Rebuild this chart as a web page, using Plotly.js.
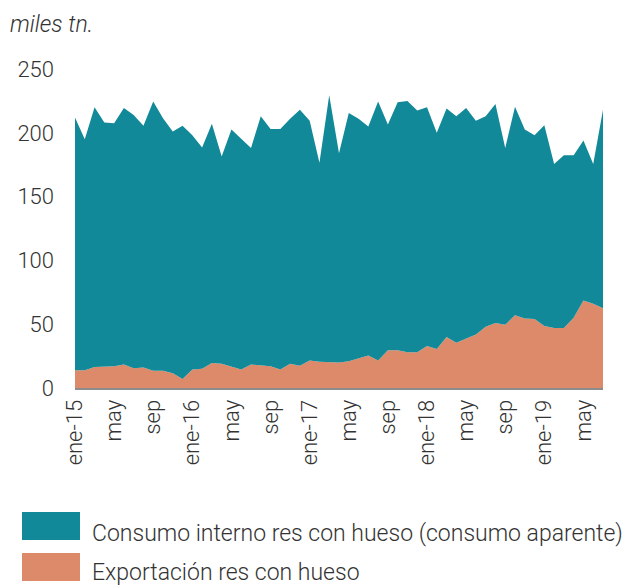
<!DOCTYPE html>
<html>
<head>
<meta charset="utf-8">
<script src="https://cdn.plot.ly/plotly-3.0.1.min.js"></script>
<style>html,body{margin:0;padding:0;background:#fff;}#chart{width:628px;height:587px;}</style>
</head>
<body>
<div id="chart"></div>
<script>
// Monthly, ene-15 .. jul-19
const months = ["ene-15","feb-15","mar-15","abr-15","may-15","jun-15","jul-15","ago-15","sep-15","oct-15","nov-15","dic-15",
  "ene-16","feb-16","mar-16","abr-16","may-16","jun-16","jul-16","ago-16","sep-16","oct-16","nov-16","dic-16",
  "ene-17","feb-17","mar-17","abr-17","may-17","jun-17","jul-17","ago-17","sep-17","oct-17","nov-17","dic-17",
  "ene-18","feb-18","mar-18","abr-18","may-18","jun-18","jul-18","ago-18","sep-18","oct-18","nov-18","dic-18",
  "ene-19","feb-19","mar-19","abr-19","may-19","jun-19","jul-19"];
const exportacion = [14,14,16.5,17,17,18.5,15.5,16,13.5,13.5,11.5,7,
  14.5,15,19.5,19,17,14.5,18.5,18,17,14.5,19,17.5,
  21.5,20.5,20,20,21,23.5,25.5,21.5,29.5,29.5,28,28,
  33,30.5,40,35.5,39,42,48,51,49.5,57,54.5,54,
  48.5,47,47,55,68.5,66,62.5];
const consumoInterno = [198,181,203.5,191,190.5,201,198.5,189.5,211,198,189.5,198.5,
  183.5,173.5,187.5,162.5,185.5,181,169.5,195,186,188.5,192,200.5,
  188,156,209.5,164,194.5,187.5,179.5,203,177,194.5,197,189.5,
  187,169.5,179,177.5,180.5,167.5,165,171.5,138.5,163.5,148,144,
  157.5,128.5,135.5,127.5,125.5,109.5,155.5];
const tickIdx = [0,4,8,12,16,20,24,28,32,36,40,44,48,52];
const tickLabels = ["ene-15","may","sep","ene-16","may","sep","ene-17","may","sep","ene-18","may","sep","ene-19","may"];
const seriesNames = ["Consumo interno res con hueso (consumo aparente)","Exportación res con hueso"];
const colors = ["#128998","#DC8A6A"];

const x = months.map((m,i)=>i);
const fam = "Roboto, 'Open Sans', sans-serif";
const txt = (size)=>({size:size, family:fam, color:"#333", weight:300});

const traces = [
  {x:x, y:exportacion, name:seriesNames[1], type:"scatter", mode:"lines", stackgroup:"one",
   line:{width:0, color:colors[1]}, fillcolor:colors[1], text:months, hoverinfo:"text+y"},
  {x:x, y:consumoInterno, name:seriesNames[0], type:"scatter", mode:"lines", stackgroup:"one",
   line:{width:0, color:colors[0]}, fillcolor:colors[0], text:months, hoverinfo:"text+y"}
];

const layout = {
  width:628, height:587,
  margin:{l:75, r:25, t:69, b:199},
  paper_bgcolor:"#fff", plot_bgcolor:"#fff",
  showlegend:false,
  font:txt(20),
  xaxis:{range:[0,54], tickmode:"array", tickvals:tickIdx, ticktext:tickLabels,
    tickangle:-90, tickfont:txt(22),
    showgrid:false, zeroline:false, showline:true, linecolor:"#8c8c8c", linewidth:2,
    ticks:"", ticklabelstandoff:1},
  yaxis:{range:[0,250], tickvals:[0,50,100,150,200,250], showgrid:false, zeroline:false,
    showline:false, ticks:"", tickfont:txt(22), ticklabelstandoff:20},
  annotations:[
    {xref:"paper", yref:"paper", x:(8-75)/528, y:1+(69-24)/319, xanchor:"left", yanchor:"middle",
     text:"<i>miles tn.</i>", showarrow:false, font:txt(23)},
    {xref:"paper", yref:"paper", x:(90-75)/528, y:-(533-388)/319, xanchor:"left", yanchor:"middle",
     text:seriesNames[0], showarrow:false, font:txt(23)},
    {xref:"paper", yref:"paper", x:(90-75)/528, y:-(572-388)/319, xanchor:"left", yanchor:"middle",
     text:seriesNames[1], showarrow:false, font:txt(23)}
  ],
  shapes:[
    {type:"rect", xref:"paper", yref:"paper", x0:(22-75)/528, x1:(80-75)/528, y0:-(540-388)/319, y1:-(512-388)/319,
     fillcolor:colors[0], line:{width:0}},
    {type:"rect", xref:"paper", yref:"paper", x0:(22-75)/528, x1:(80-75)/528, y0:-(581-388)/319, y1:-(553-388)/319,
     fillcolor:colors[1], line:{width:0}}
  ]
};
Plotly.newPlot("chart", traces, layout, {displayModeBar:false, staticPlot:true});
</script>
</body>
</html>
